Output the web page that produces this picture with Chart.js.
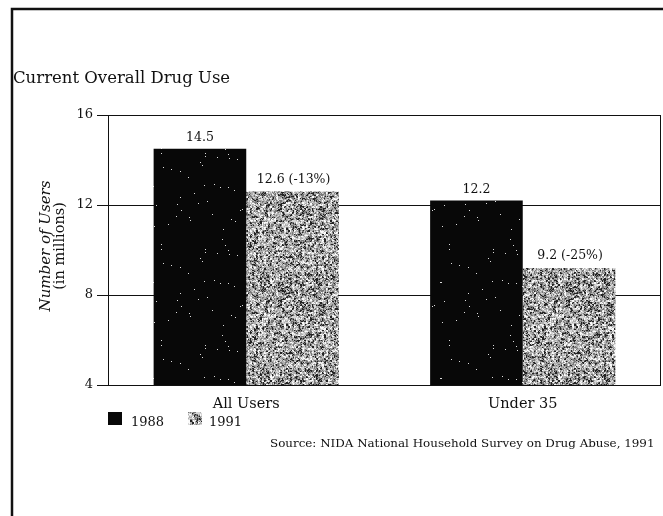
<!DOCTYPE html>
<html>
<head>
<meta charset="utf-8">
<script src="https://cdn.jsdelivr.net/npm/chart.js@4"></script>
<style>
  html, body { margin: 0; padding: 0; background: #fff; }
  #wrap { width: 663px; height: 516px; position: relative; }
</style>
</head>
<body>
<div id="wrap"><canvas id="c" width="663" height="516"></canvas></div>
<script>
// Survey figures (millions of current users)
const categories = ["All Users", "Under 35"];
const seriesNames = ["1988", "1991"];
const users1988 = [14.5, 12.2];
const users1991 = [12.6, 9.2];
const change1991 = [-13, -25];          // percent change 1988 -> 1991
const yTicks = [4, 8, 12, 16];
const chartTitle = "Current Overall Drug Use";
const yTitleLines = ["Number of Users", "(in millions)"];
const sourceNote = "Source: NIDA National Household Survey on Drug Abuse, 1991";

const SERIF = '"DejaVu Serif", "Liberation Serif", serif';
const INK = '#111';

// deterministic integer hash used for the print-like bar textures
function hash(x, y, s) {
  let h = (x * 374761393 + y * 668265263 + s * 982451653) | 0;
  h = Math.imul(h ^ (h >>> 13), 1274126177);
  h = h ^ (h >>> 16);
  return (h >>> 0) / 4294967296;
}

function makeTexture(kind) {
  const n = 96;
  const cv = document.createElement('canvas');
  cv.width = cv.height = n;
  const g = cv.getContext('2d');
  const img = g.createImageData(n, n);
  for (let y = 0; y < n; y++) {
    for (let x = 0; x < n; x++) {
      let v;
      if (kind === 'dark') {
        v = hash(x, y, 1) < 0.006 ? 220 : 8;
      } else {
        // coarse blotches mixed with fine grain
        const coarse = hash(x >> 1, y >> 1, 3);
        const fine = hash(x, y, 2);
        const r = 0.55 * coarse + 0.45 * fine;
        v = r < 0.27 ? 35 : r < 0.45 ? 120 : r < 0.63 ? 175 : r < 0.78 ? 215 : 250;
      }
      const i = (y * n + x) * 4;
      img.data[i] = img.data[i + 1] = img.data[i + 2] = v;
      img.data[i + 3] = 255;
    }
  }
  g.putImageData(img, 0, 0);
  return g.createPattern(cv, 'repeat');
}

const ctx = document.getElementById('c').getContext('2d');
const darkFill = makeTexture('dark');
const grainFill = makeTexture('grain');
const fills = [darkFill, grainFill];

const decor = {
  id: 'decor',
  afterDatasetsDraw(chart) {
    const c = chart.ctx;
    c.save();
    c.fillStyle = INK;
    c.font = '12.5px ' + SERIF;
    c.textAlign = 'center';
    c.textBaseline = 'alphabetic';
    const m0 = chart.getDatasetMeta(0);
    const m1 = chart.getDatasetMeta(1);
    users1988.forEach((v, i) => {
      const el = m0.data[i];
      c.fillText(v.toFixed(1), el.x, el.y - 8);
    });
    users1991.forEach((v, i) => {
      const el = m1.data[i];
      c.fillText(v.toFixed(1) + ' (' + change1991[i] + '%)', el.x + 1, el.y - 9);
    });
    c.restore();
  },
  afterDraw(chart) {
    const c = chart.ctx;
    const a = chart.chartArea;
    c.save();
    // page frame
    c.strokeStyle = INK;
    c.lineWidth = 2.5;
    c.beginPath();
    c.moveTo(663, 9);
    c.lineTo(12, 9);
    c.lineTo(12, 516);
    c.stroke();
    // right edge of plot box
    c.lineWidth = 1;
    c.beginPath();
    c.moveTo(a.right - 0.5, a.top);
    c.lineTo(a.right - 0.5, a.bottom);
    c.stroke();

    c.fillStyle = INK;
    // title
    c.textAlign = 'left';
    c.textBaseline = 'alphabetic';
    c.font = '16.5px ' + SERIF;
    c.fillText(chartTitle, 13, 83);

    // y axis title, two lines rotated
    c.save();
    c.translate(0, 246);
    c.rotate(-Math.PI / 2);
    c.textAlign = 'center';
    c.font = 'italic 15px ' + SERIF;
    c.fillText(yTitleLines[0], 0, 50);
    c.font = '14.5px ' + SERIF;
    c.fillText(yTitleLines[1], 0, 64);
    c.restore();

    // legend
    c.font = '13px ' + SERIF;
    c.textAlign = 'left';
    const items = [{ x: 108, tx: 131 }, { x: 188, tx: 209 }];
    items.forEach((it, i) => {
      c.fillStyle = fills[i];
      c.fillRect(it.x, 412, 14, 13);
      c.fillStyle = INK;
      c.fillText(seriesNames[i], it.tx, 426);
    });

    // source note
    c.font = '11.9px ' + SERIF;
    c.textAlign = 'left';
    c.fillText(sourceNote, 270, 447);
    c.restore();
  }
};

new Chart(ctx, {
  type: 'bar',
  data: {
    labels: categories,
    datasets: [
      { label: seriesNames[0], data: users1988, backgroundColor: darkFill, borderWidth: 0,
        categoryPercentage: 0.67, barPercentage: 1.0 },
      { label: seriesNames[1], data: users1991, backgroundColor: grainFill, borderWidth: 0,
        categoryPercentage: 0.67, barPercentage: 1.0 }
    ]
  },
  options: {
    responsive: false,
    animation: false,
    devicePixelRatio: 1,
    layout: { padding: { left: 0, top: 115, right: 2, bottom: 101 } },
    plugins: { legend: { display: false }, tooltip: { enabled: false }, title: { display: false } },
    scales: {
      x: {
        grid: { display: false },
        border: { display: false },
        ticks: { color: INK, font: { family: SERIF, size: 14.5 }, padding: 3 },
        afterFit(s) { s.height = 30; }
      },
      y: {
        min: 4,
        max: 16,
        afterBuildTicks(s) { s.ticks = yTicks.map(v => ({ value: v })); },
        grid: { color: INK, lineWidth: 1, tickLength: 11, drawTicks: true },
        border: { display: true, color: INK, width: 1 },
        ticks: { color: INK, font: { family: SERIF, size: 13 }, padding: 4 },
        afterFit(s) { s.width = 108; }
      }
    }
  },
  plugins: [decor]
});
</script>
</body>
</html>
